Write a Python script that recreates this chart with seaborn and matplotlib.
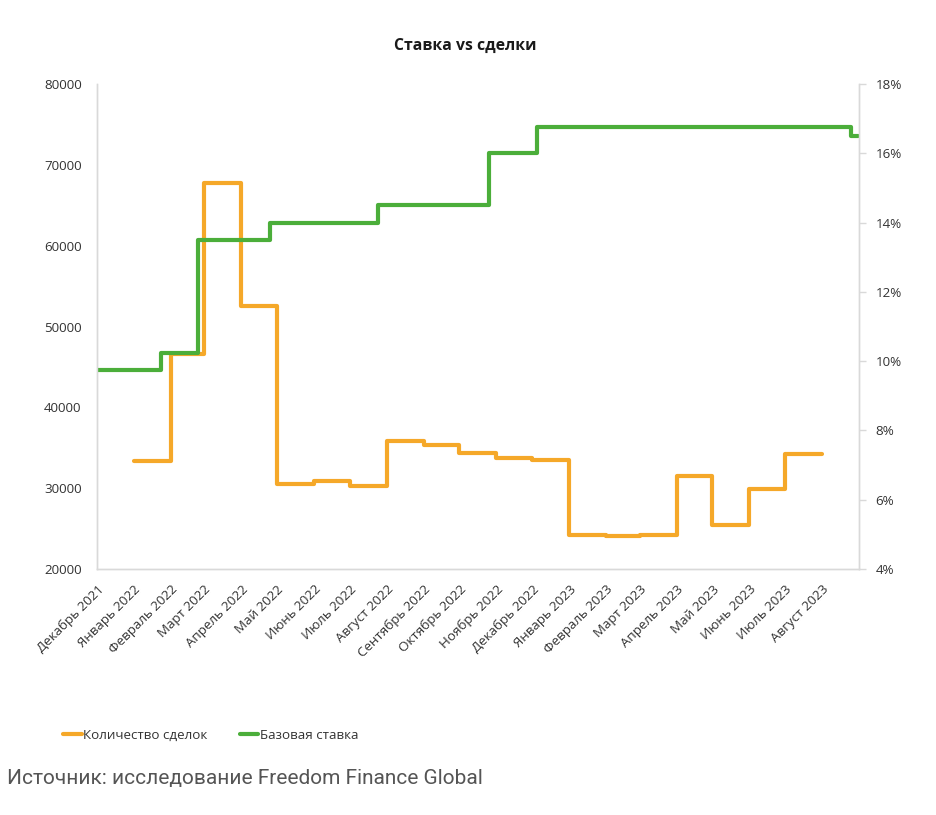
import matplotlib
matplotlib.use("Agg")
import matplotlib.pyplot as plt
import matplotlib.ticker as mticker
import seaborn as sns
import pandas as pd

# ---- data ----
month_labels = ["Декабрь 2021", "Январь 2022", "Февраль 2022", "Март 2022", "Апрель 2022",
                "Май 2022", "Июнь 2022", "Июль 2022", "Август 2022", "Сентябрь 2022",
                "Октябрь 2022", "Ноябрь 2022", "Декабрь 2022", "Январь 2023", "Февраль 2023",
                "Март 2023", "Апрель 2023", "Май 2023", "Июнь 2023", "Июль 2023", "Август 2023"]

deal_months = pd.date_range("2022-01-01", "2023-07-01", freq="MS")
deal_counts = [33400, 46600, 67800, 52500, 30500, 30900, 30300, 35800, 35300, 34300,
               33700, 33500, 24200, 24100, 24200, 31500, 25500, 29900, 34200]

rate_dates = pd.to_datetime(["2021-12-01", "2022-01-24", "2022-02-24", "2022-04-25",
                             "2022-07-25", "2022-10-26", "2022-12-05", "2023-08-25"])
rate_values = [9.75, 10.25, 13.5, 14.0, 14.5, 16.0, 16.75, 16.5]
rate_end = pd.Timestamp("2023-08-31")

deals_df = pd.DataFrame({"date": list(deal_months) + [deal_months[-1] + pd.offsets.MonthBegin(1)],
                         "deals": deal_counts + [deal_counts[-1]]})
rate_df = pd.DataFrame({"date": list(rate_dates) + [rate_end],
                        "rate": rate_values + [rate_values[-1]]})

# ---- style ----
sns.set_style("white")
plt.rcParams["font.family"] = ["Open Sans", "DejaVu Sans"]

ORANGE = "#F5A829"
GREEN = "#4BAE3A"
AXC = "#D9D9D9"
TXT = "#333333"
FS = 9.6

fig = plt.figure(figsize=(9.36, 8.15), dpi=100)
ax = fig.add_axes([0.1036, 0.3018, 0.8141, 0.5951])
ax2 = ax.twinx()

sns.lineplot(data=deals_df, x="date", y="deals", ax=ax, drawstyle="steps-post",
             color=ORANGE, linewidth=3.0, label="Количество сделок", legend=False)
sns.lineplot(data=rate_df, x="date", y="rate", ax=ax2, drawstyle="steps-post",
             color=GREEN, linewidth=3.0, label="Базовая ставка", legend=False)

x0 = pd.Timestamp("2021-12-01")
x1 = pd.Timestamp("2023-09-01")
ax.set_xlim(x0, x1)
ticks = pd.date_range(x0, x1, freq="MS")
ax.set_xticks(ticks)
ax.set_xticklabels(month_labels + [""], rotation=45, ha="right", rotation_mode="anchor",
                   fontsize=FS, color=TXT)

ax.set_ylim(20000, 80000)
ax.set_yticks(range(20000, 80001, 10000))
ax.yaxis.set_major_formatter(mticker.FuncFormatter(lambda v, p: f"{int(v)}"))
ax2.set_ylim(4, 18)
ax2.set_yticks(range(4, 19, 2))
ax2.yaxis.set_major_formatter(mticker.FuncFormatter(lambda v, p: f"{int(v)}%"))

for a in (ax, ax2):
    a.set_xlabel("")
    a.set_ylabel("")
    for s in a.spines.values():
        s.set_color(AXC)
        s.set_linewidth(1.0)
    a.spines["top"].set_visible(False)
    a.tick_params(axis="both", colors=AXC, labelcolor=TXT, labelsize=FS, length=5, width=1)
    a.grid(False)
ax.tick_params(axis="y", length=0, pad=11)
ax2.tick_params(axis="y", length=5, pad=7)
ax.tick_params(axis="x", pad=5)

fig.text(0.497, 0.944, "Ставка vs сделки", ha="center", va="center",
         fontsize=11.3, fontweight="bold", color="#1a1a1a")

h1, l1 = ax.get_legend_handles_labels()
h2, l2 = ax2.get_legend_handles_labels()
leg = fig.legend(h1 + h2, l1 + l2, loc="center left", bbox_to_anchor=(0.055, 0.098),
                 ncol=2, frameon=False, fontsize=FS, handlelength=1.4, handletextpad=0.1,
                 columnspacing=2.4)
for t in leg.get_texts():
    t.set_color(TXT)

fig.text(0.007, 0.045, "Источник: исследование Freedom Finance Global", ha="left",
         va="center", fontsize=15, color="#555555", family=["Roboto", "DejaVu Sans"])

fig.savefig("out.png", dpi=100, facecolor="white")
